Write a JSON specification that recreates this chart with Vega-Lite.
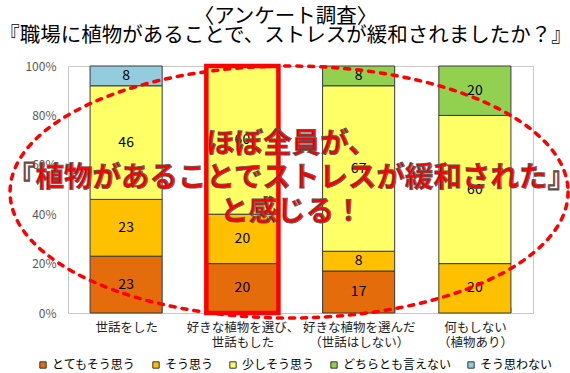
{
  "$schema": "https://vega.github.io/schema/vega-lite/v6.json",
  "width": 465,
  "height": 247,
  "autosize": {"type": "none"},
  "padding": {"left": 68, "top": 66, "right": 37, "bottom": 60},
  "background": "white",
  "config": {
    "view": {"stroke": "#C8C8C8", "strokeWidth": 1},
    "font": "Noto Sans CJK JP"
  },
  "title": {
    "text": ["〈アンケート調査〉", "『職場に植物があることで、ストレスが緩和されましたか？』"],
    "fontSize": 20.5,
    "fontWeight": "normal",
    "font": "Noto Sans CJK JP",
    "color": "#000000",
    "lineHeight": 19,
    "anchor": "middle",
    "frame": "group",
    "dx": -15,
    "offset": 13
  },
  "datasets": {
    "survey": [
      {"category": "世話をした", "series": "とてもそう思う", "k": 1, "value": 23},
      {"category": "世話をした", "series": "そう思う", "k": 2, "value": 23},
      {"category": "世話をした", "series": "少しそう思う", "k": 3, "value": 46},
      {"category": "世話をした", "series": "そう思わない", "k": 5, "value": 8},
      {"category": "好きな植物を選び、\n世話もした", "series": "とてもそう思う", "k": 1, "value": 20},
      {"category": "好きな植物を選び、\n世話もした", "series": "そう思う", "k": 2, "value": 20},
      {"category": "好きな植物を選び、\n世話もした", "series": "少しそう思う", "k": 3, "value": 60},
      {"category": "好きな植物を選んだ\n（世話はしない）", "series": "とてもそう思う", "k": 1, "value": 17},
      {"category": "好きな植物を選んだ\n（世話はしない）", "series": "そう思う", "k": 2, "value": 8},
      {"category": "好きな植物を選んだ\n（世話はしない）", "series": "少しそう思う", "k": 3, "value": 67},
      {"category": "好きな植物を選んだ\n（世話はしない）", "series": "どちらとも言えない", "k": 4, "value": 8},
      {"category": "何もしない\n（植物あり）", "series": "そう思う", "k": 2, "value": 20},
      {"category": "何もしない\n（植物あり）", "series": "少しそう思う", "k": 3, "value": 60},
      {"category": "何もしない\n（植物あり）", "series": "どちらとも言えない", "k": 4, "value": 20}
    ],
    "highlight": [
      {"category": "好きな植物を選び、\n世話もした"}
    ],
    "note": [
      {"msg": "ほぼ全員が、\n『植物があることでストレスが緩和された』\nと感じる！"}
    ]
  },
  "layer": [
    {
      "data": {"name": "survey"},
      "mark": {"type": "bar", "stroke": "#3a3a3a", "strokeWidth": 1},
      "encoding": {
        "x": {
          "field": "category",
          "type": "nominal",
          "title": null,
          "scale": {
            "domain": ["世話をした", "好きな植物を選び、\n世話もした", "好きな植物を選んだ\n（世話はしない）", "何もしない\n（植物あり）"],
            "paddingInner": 0.38,
            "paddingOuter": 0.19
          },
          "axis": {
            "labelAngle": 0,
            "labelExpr": "split(datum.label, '\\n')",
            "labelFontSize": 12.5,
            "labelColor": "#222222",
            "labelLineHeight": 15,
            "labelBaseline": "middle",
            "labelPadding": 20,
            "domain": false,
            "ticks": true,
            "tickBand": "extent",
            "tickSize": -6,
            "tickColor": "#C8C8C8",
            "grid": false
          }
        },
        "y": {
          "field": "value",
          "type": "quantitative",
          "stack": "zero",
          "title": null,
          "scale": {"domain": [0, 100], "nice": false},
          "axis": {
            "values": [0, 20, 40, 60, 80, 100],
            "labelExpr": "datum.value + '%'",
            "labelFontSize": 12,
            "labelColor": "#595959",
            "labelPadding": 12,
            "ticks": false,
            "domain": false,
            "grid": false
          }
        },
        "color": {
          "field": "series",
          "type": "nominal",
          "scale": {
            "domain": ["とてもそう思う", "そう思う", "少しそう思う", "どちらとも言えない", "そう思わない"],
            "range": ["#E46C0A", "#FFC000", "#FFFF66", "#92D050", "#93CDDD"]
          },
          "legend": {
            "orient": "none",
            "legendX": -31,
            "legendY": 293,
            "direction": "horizontal",
            "title": null,
            "symbolType": "square",
            "symbolSize": 40,
            "symbolStrokeColor": "#333333",
            "symbolStrokeWidth": 1,
            "labelFontSize": 12,
            "labelColor": "#000000",
            "labelOffset": 3,
            "columnPadding": 13,
            "padding": 0
          }
        },
        "order": {"field": "k", "type": "quantitative"}
      }
    },
    {
      "data": {"name": "survey"},
      "mark": {"type": "text", "fontSize": 14, "color": "#000000"},
      "encoding": {
        "x": {"field": "category", "type": "nominal"},
        "y": {"field": "value", "type": "quantitative", "stack": "zero", "bandPosition": 0.5},
        "detail": {"field": "series"},
        "order": {"field": "k", "type": "quantitative"},
        "text": {"field": "value", "type": "quantitative"}
      }
    },
    {
      "data": {"name": "highlight"},
      "mark": {"type": "bar", "fill": "transparent", "stroke": "#FF0000", "strokeWidth": 4.5},
      "encoding": {
        "x": {"field": "category", "type": "nominal"},
        "y": {"datum": 0, "type": "quantitative"},
        "y2": {"datum": 100}
      }
    },
    {
      "data": {"name": "note"},
      "mark": {
        "type": "point",
        "shape": "M 0.959 0.009 C 0.959 0.2584 0.5113 0.4606 -0.041 0.4606 C -0.5933 0.4606 -1.041 0.2584 -1.041 0.009 C -1.041 -0.2404 -0.5933 -0.4426 -0.041 -0.4426 C 0.5113 -0.4426 0.959 -0.2404 0.959 0.009 Z",
        "size": 311364,
        "filled": false,
        "fill": "transparent",
        "stroke": "#FF0000",
        "strokeWidth": 3.5,
        "strokeDash": [5, 7],
        "strokeCap": "round",
        "opacity": 1
      },
      "encoding": {}
    },
    {
      "data": {"name": "note"},
      "mark": {
        "type": "text",
        "fontSize": 28.5,
        "fontWeight": "bold",
        "font": "Noto Sans CJK JP",
        "fill": "#FF0000",
        "stroke": "#555555",
        "strokeWidth": 0.8,
        "lineBreak": "\n",
        "lineHeight": 34,
        "align": "center",
        "baseline": "middle",
        "dx": -9,
        "dy": -46
      },
      "encoding": {
        "text": {"field": "msg", "type": "nominal"}
      }
    }
  ]
}
